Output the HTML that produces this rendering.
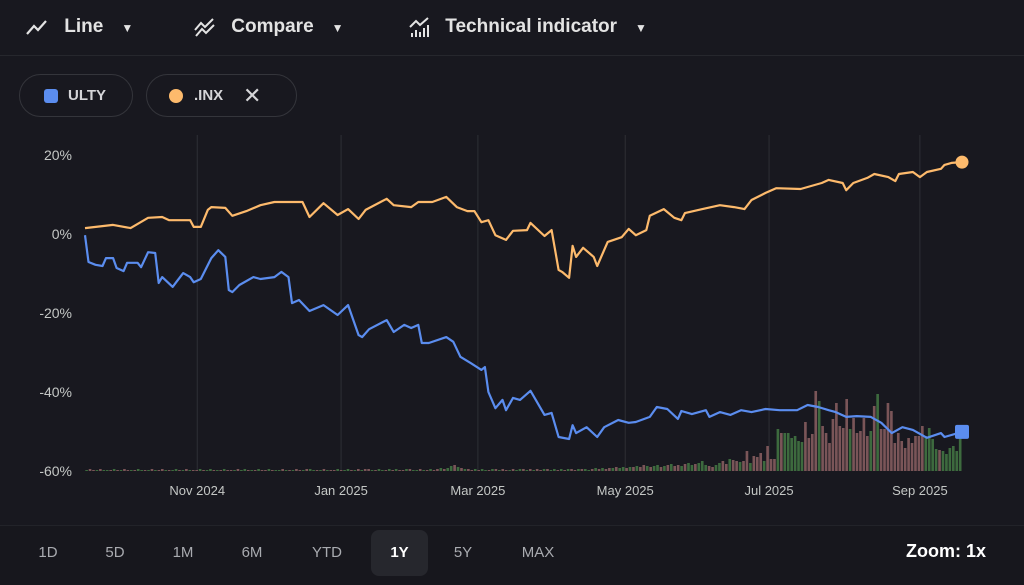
<!DOCTYPE html>
<html><head><meta charset="utf-8">
<style>
html,body{margin:0;padding:0;background:#18181f;width:1024px;height:585px;overflow:hidden;font-family:"Liberation Sans",sans-serif;}
#root{position:relative;width:1024px;height:585px;}
.hdr{position:absolute;top:0;left:0;width:1024px;height:55px;border-bottom:1px solid #26272d;}
.hi{position:absolute;top:14px;height:26px;color:#e3e3e3;font-size:19px;font-weight:bold;line-height:26px;}
.chip{position:absolute;top:74px;height:43px;border:1px solid #34353b;border-radius:23px;box-sizing:border-box;color:#d5d5d8;font-size:15px;font-weight:bold;line-height:41px;}
.bot{position:absolute;top:525px;left:0;width:1024px;height:60px;border-top:1px solid #222329;background:#17171d;}
.rb{position:absolute;top:530px;height:46px;line-height:46px;color:#a9abb0;font-size:15px;text-align:center;width:56px;}
</style></head><body>
<div id="root">
<div class="hdr">
  <div class="hi" style="left:25px">
    <svg width="24" height="24" style="vertical-align:middle" viewBox="0 0 24 24"><path d="M2 19 L9 11 L13 15 L21 6" stroke="#e3e3e3" stroke-width="2.2" fill="none"/></svg>
    <span style="margin-left:10px">Line</span><span style="margin-left:18px;font-size:12px">▼</span></div>
  <div class="hi" style="left:193px">
    <svg width="24" height="24" style="vertical-align:middle" viewBox="0 0 24 24"><path d="M2 15 L8 8 L12 12 L20 4 M3 21 L9 14 L13 18 L21 10" stroke="#e3e3e3" stroke-width="2" fill="none"/></svg>
    <span style="margin-left:9px">Compare</span><span style="margin-left:18px;font-size:12px">▼</span></div>
  <div class="hi" style="left:408px">
    <svg width="24" height="24" style="vertical-align:middle" viewBox="0 0 24 24"><path d="M2 12 L8 6 L12 10 L20 3" stroke="#e3e3e3" stroke-width="2" fill="none"/><path d="M4 22v-4M8 22v-7M12 22v-5M16 22v-9M20 22v-12" stroke="#e3e3e3" stroke-width="2"/></svg>
    <span style="margin-left:8px">Technical indicator</span><span style="margin-left:18px;font-size:12px">▼</span></div>
</div>
<div class="chip" style="left:19px;width:114px">
  <span style="position:absolute;left:24px;top:14px;width:14px;height:14px;background:#5b8def;border-radius:3px"></span>
  <span style="position:absolute;left:48px">ULTY</span></div>
<div class="chip" style="left:146px;width:151px">
  <span style="position:absolute;left:22px;top:14px;width:14px;height:14px;background:#fdba6c;border-radius:50%"></span>
  <span style="position:absolute;left:47px">.INX</span>
  <span style="position:absolute;left:96px;top:0;font-size:22px;font-weight:normal;color:#d5d5d8">✕</span></div>

<svg id="chart" width="1024" height="585" style="position:absolute;left:0;top:0"></svg>

<div class="bot"></div>
<div class="rb" style="left:20px">1D</div>
<div class="rb" style="left:87px">5D</div>
<div class="rb" style="left:155px">1M</div>
<div class="rb" style="left:224px">6M</div>
<div class="rb" style="left:299px">YTD</div>
<div class="rb" style="left:371px;width:57px;background:#26272d;border-radius:8px;color:#fff;font-weight:bold">1Y</div>
<div class="rb" style="left:435px">5Y</div>
<div class="rb" style="left:510px">MAX</div>
<div style="position:absolute;right:38px;top:541px;color:#fff;font-size:18px;font-weight:bold">Zoom: 1x</div>
</div>
<script>
const yTicks=[20,0,-20,-40,-60];
const yTickLabels=["20%","0%","-20%","-40%","-60%"];
const xTickDays=[32,73,112,154,195,238];
const xTickLabels=["Nov 2024","Jan 2025","Mar 2025","May 2025","Jul 2025","Sep 2025"];
const inxDays=[0,8,13,18,22,24,30,31,33,35,36,40,42,46,50,54,59,62,64,68,72,75,78,80,86,88,93,95,99,103,106,109,111,113,115,117,120,122,126,127,131,133,135,136,138,139,140,142,145,146,149,153,155,157,160,161,165,168,170,171,176,181,185,188,190,194,197,204,210,212,216,217,219,223,225,229,231,232,236,238,240,244,245,247,250];
const inxVals=[1.5,2.3,1.5,4.1,4.3,3.5,3.5,1.8,1.8,6.1,6.8,6.6,4.6,5.8,7.3,8.1,8.1,8.1,4.3,7.8,4.8,6.3,3.8,6.1,8.9,7.3,6.8,8.1,8.1,9.4,6.8,5.8,5.8,3.0,3.5,-0.3,-1.5,0.8,1.0,2.8,-0.5,1.0,-9.1,-9.6,-11.1,-3.0,-5.8,-3.5,-5.8,-8.1,-2.0,-0.8,1.3,-0.3,1.0,4.6,6.3,4.1,3.5,5.3,6.3,7.3,6.8,6.3,8.6,10.4,11.6,11.4,12.9,13.7,12.9,11.1,12.9,14.2,15.2,14.4,13.4,15.2,15.7,14.4,15.7,16.5,17.5,18.0,18.2];
const ultyDays=[0,1,3,5,6,8,9,11,12,15,16,18,20,21,22,25,26,28,30,31,33,36,38,40,41,42,44,48,50,54,56,58,59,61,64,68,72,75,78,79,81,86,88,91,93,95,96,98,103,105,107,110,113,114,115,117,119,120,122,124,127,131,133,135,138,139,140,143,146,148,152,155,157,161,163,166,169,170,173,177,178,181,184,187,190,194,198,203,206,209,212,214,217,220,224,227,230,233,236,240,244,245,250];
const ultyVals=[-0.3,-7.1,-7.8,-8.1,-6.1,-6.1,-8.6,-9.4,-7.3,-7.3,-8.4,-4.6,-4.8,-12.4,-10.9,-13.4,-12.2,-9.9,-10.9,-12.2,-11.4,-6.1,-4.1,-5.8,-14.2,-14.7,-12.9,-10.9,-11.4,-10.9,-9.6,-10.9,-17.5,-16.7,-19.5,-18.0,-20.5,-18.0,-25.6,-26.1,-24.1,-21.8,-24.8,-23.0,-23.8,-23.0,-27.6,-27.6,-26.1,-27.3,-31.1,-32.7,-34.4,-33.7,-40.0,-44.1,-42.0,-44.6,-41.5,-42.0,-39.7,-45.8,-45.3,-51.4,-51.9,-48.4,-50.4,-48.9,-51.4,-48.9,-47.1,-47.8,-47.6,-46.3,-43.8,-44.3,-46.8,-44.8,-45.6,-44.6,-46.3,-45.1,-45.8,-44.6,-45.1,-44.3,-44.6,-44.6,-43.3,-43.8,-44.6,-45.1,-46.3,-46.1,-46.3,-47.8,-50.4,-48.9,-49.6,-51.6,-50.4,-51.4,-50.1];
const volume=[1,2,1,1,2,1,1,1,2,1,1,2,1,1,1,2,1,1,1,2,
1,1,2,1,1,1,2,1,1,2,1,1,1,2,1,1,2,1,1,1,
2,1,1,1,2,1,2,1,1,1,2,1,1,2,1,1,1,2,1,1,
1,2,1,1,2,2,1,1,1,2,1,1,1,2,1,1,2,1,1,2,
1,2,2,1,1,2,1,1,2,1,2,1,1,2,2,1,1,2,1,1,
2,1,2,3,2,3,5,6,4,3,2,2,1,2,1,2,1,1,2,2,
1,2,1,1,2,1,2,2,1,2,1,2,1,2,2,1,2,1,2,1,
2,2,1,2,2,2,1,2,3,2,3,2,3,3,4,3,4,3,4,4,
5,4,6,5,4,5,6,4,5,6,7,5,6,5,7,8,6,7,8,10,6,
5,4,6,8,10,7,12,11,10,
9,10,20,8,15,14,18,10,25,12,
12,42,38,38,38,33,35,30,29,49,
33,37,80,70,45,38,28,52,68,45,
43,72,42,53,38,40,53,35,40,65,
77,42,42,68,60,28,38,30,23,33,
28,35,35,45,35,43,32,22,21,20,
17,23,25,20,38];
const volDirEarly="udduduudud";
const volDirLate="uudduudduddudduddduddduduuuuuudddduddddddddudddddududdddddddddddduuuuduuuuuu";

const svg=document.getElementById('chart');
const NS='http://www.w3.org/2000/svg';
const X0=85,X1=962,DAYS=250;
const xs=d=>X0+(X1-X0)*d/DAYS;
const ys=p=>234-p*(316/80);
const yv=v=>471-v*1.0;
function mk(tag,attrs){const e=document.createElementNS(NS,tag);for(const k in attrs)e.setAttribute(k,attrs[k]);svg.appendChild(e);return e;}

xTickDays.forEach((d,i)=>{
  const g=mk('line',{x1:xs(d),x2:xs(d),y1:135,y2:471,stroke:'#2e2f35','stroke-width':1});
  
  
  const t=mk('text',{x:xs(d),y:495,'text-anchor':'middle',fill:'#c4c7c5','font-size':13,'font-family':'Liberation Sans, sans-serif'});
  t.textContent=xTickLabels[i];
  
  
});
yTicks.forEach((v,i)=>{
  const t=mk('text',{x:72,y:ys(v)+5,'text-anchor':'end',fill:'#c4c7c5','font-size':14,'font-family':'Liberation Sans, sans-serif'});
  t.textContent=yTickLabels[i];
  
  
});
const n=volume.length, bw=(X1-X0)/n;
volume.forEach((v,i)=>{
  const late=i-(n-volDirLate.length);
  const dir=late>=0?(volDirLate[late]||'u'):volDirEarly[i%volDirEarly.length];
  const b=mk('rect',{x:X0+i*bw+0.3,y:yv(v),width:Math.max(bw-0.8,1),height:471-yv(v),fill:dir==='u'?'#3d6a3e':'#7a5558'});
  
  
});
function line(days,vals,color,name){
  const d=days.map((dd,i)=>(i?'L':'M')+xs(dd).toFixed(1)+' '+ys(vals[i]).toFixed(1)).join(' ');
  const p=mk('path',{d:d,stroke:color,'stroke-width':2.2,fill:'none','stroke-linejoin':'round'});
  
  
}
line(inxDays,inxVals,'#fdba6c','inx-line');
line(ultyDays,ultyVals,'#5b8def','ulty-line');
const li=inxDays.length-1, lu=ultyDays.length-1;
const c=mk('circle',{cx:xs(inxDays[li]),cy:ys(inxVals[li]),r:6.5,fill:'#fdba6c'});


const s=mk('rect',{x:xs(ultyDays[lu])-7,y:ys(ultyVals[lu])-7,width:14,height:14,rx:2,fill:'#5b8def'});


</script>
</body></html>
